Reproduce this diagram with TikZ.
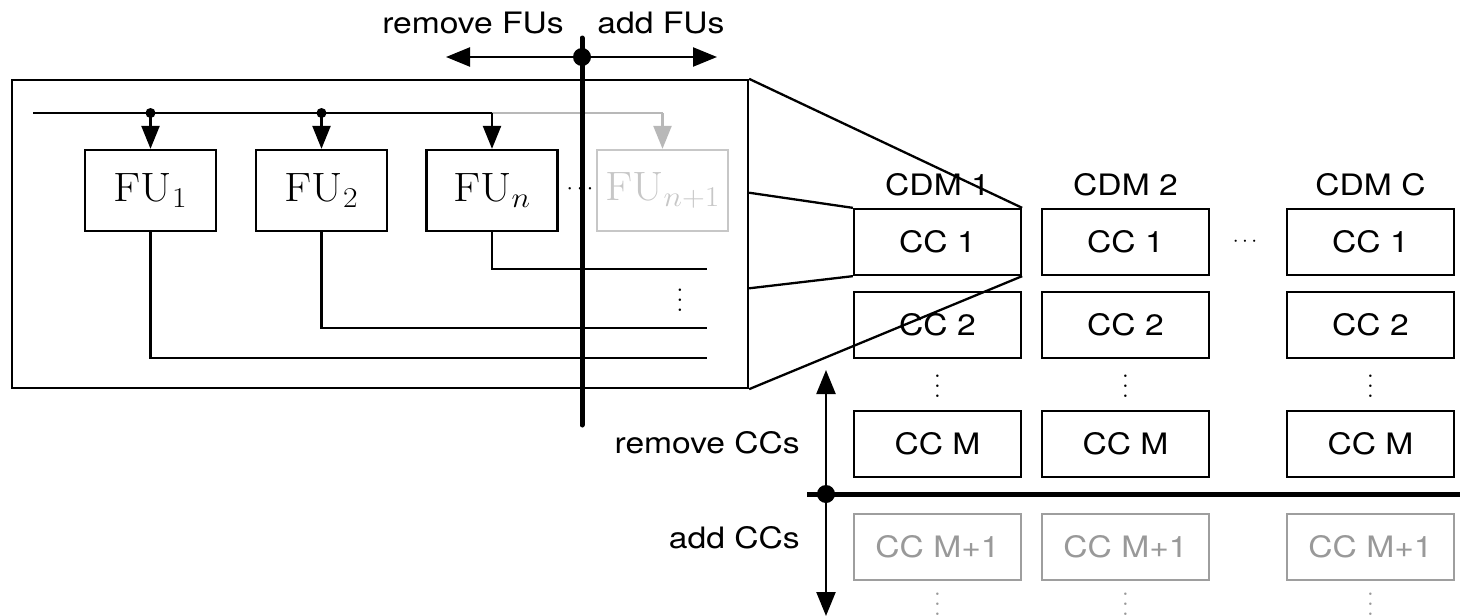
\RequirePackage{fix-cm}
\documentclass[tikz,border=0pt]{standalone}
\usepackage{fontspec}
\usepackage{graphicx}
\setsansfont[FakeStretch=1.14]{TeX Gyre Heros}
\usetikzlibrary{arrows.meta,calc}
\newcommand{\hs}[1]{\scalebox{1.1}[1]{#1}}
\begin{document}
\begin{tikzpicture}[x=1pt,y=-1pt,
  lw/.style={line width=2.3pt},
  thk/.style={line width=5pt},
  fubox/.style={draw,lw,minimum width=131pt,minimum height=81pt,inner sep=0pt,font=\fontsize{41}{45}\selectfont},
  ccbox/.style={draw,lw,minimum width=167pt,minimum height=66pt,inner sep=0pt,font=\sffamily\fontsize{29.5}{33}\selectfont},
  lab/.style={inner sep=0pt,font=\sffamily\fontsize{29.5}{33}\selectfont},
  tri/.style={-{Triangle[length=23pt,width=18pt]}},
  bitri/.style={{Triangle[length=24pt,width=19pt]}-{Triangle[length=24pt,width=19pt]}},
  fugray/.style={draw=black!22,text=black!22},
  ccgray/.style={draw=black!38,text=black!40},
  dot/.style={circle,fill,inner sep=0pt,minimum size=#1}
]
\useasboundingbox (0,0) rectangle (1460,616);

% outer box
\node[draw,lw,minimum width=736pt,minimum height=308pt,inner sep=0pt] (big) at (380,234) {};

% FU boxes
\node[fubox] (fu1) at (150.5,190.5) {\hs{$\mathrm{FU}_1$}};
\node[fubox] (fu2) at (321.5,190.5) {\hs{$\mathrm{FU}_2$}};
\node[fubox] (fun) at (492,190.5) {\hs{$\mathrm{FU}_n$}};
\node[fubox,fugray] (fun1) at (662.5,190.5) {\hs{$\mathrm{FU}_{n+1}$}};
\node[inner sep=0pt] (hd1) at (580,189) {\scalebox{2.3}{$\cdots$}};

% bus
\coordinate (bs) at (33,113);
\coordinate (b1) at (150.5,113);
\coordinate (b2) at (321.5,113);
\coordinate (bn) at (492,113);
\coordinate (bn1) at (662.5,113);
\draw[lw,black!28] (bn) -- (bn1);
\draw[lw,black!28,tri] (bn1) -- (fun1.north);
\draw[lw] (bs) -- (bn);
\draw[lw,tri] (b1) -- (fu1.north);
\draw[lw,tri] (b2) -- (fu2.north);
\draw[lw,tri] (bn) -- (fun.north);
\node[dot=10pt] (d1) at (b1) {};
\node[dot=10pt] (d2) at (b2) {};

% outputs
\coordinate (on) at (707,269);
\coordinate (o2) at (707,328);
\coordinate (o1) at (707,358);
\draw[lw] (fun.south) |- (on);
\draw[lw] (fu2.south) |- (o2);
\draw[lw] (fu1.south) |- (o1);
\node[inner sep=0pt] (vd0) at (680,293) {\scalebox{2.4}{$\vdots$}};

% CC grid
\foreach \c/\x in {1/937.5,2/1125.5,C/1370.5}{
  \node[lab,anchor=base] (cdm\c) at (\x,195) {CDM \c};
  \node[ccbox] (cc1\c) at (\x,242) {CC 1};
  \node[ccbox] (cc2\c) at (\x,325) {CC 2};
  \node[inner sep=0pt] (vd\c) at (\x,379) {\scalebox{2.4}{$\vdots$}};
  \node[ccbox] (ccM\c) at (\x,444) {CC M};
  \node[ccbox,ccgray] (ccN\c) at (\x,547) {CC M+1};
  \node[inner sep=0pt,text=black!40] (vg\c) at (\x,597) {\scalebox{2.4}{$\vdots$}};
}
\node[inner sep=0pt] (hd2) at (1245,242) {\scalebox{2.1}{$\cdots$}};

% zoom lines
\coordinate (z1) at ($(big.north east)!0.367!(big.south east)$);
\coordinate (z2) at ($(big.north east)!0.675!(big.south east)$);
\draw[lw] (big.north east) -- (cc11.north east);
\draw[lw] (z1) -- (cc11.north west);
\draw[lw] (z2) -- (cc11.south west);
\draw[lw] (big.south east) -- (cc11.south east);

% FU add/remove
\coordinate (vt) at (582,38);
\coordinate (vb) at (582,425);
\coordinate (al) at (446,57);
\coordinate (ar) at (717,57);
\draw[lw,bitri] (al) -- (ar);
\draw[thk,line cap=round] (vt) -- (vb);
\node[dot=18pt] (fd) at (582,57) {};
\node[lab,anchor=base] (rfu) at (473,33) {remove FUs};
\node[lab,anchor=base] (afu) at (661,33) {add FUs};

% CC add/remove
\coordinate (hl) at (807,494);
\coordinate (hr) at (1460,494);
\coordinate (ct) at (826,370);
\coordinate (cb) at (826,616);
\draw[thk] (hl) -- (hr);
\draw[lw,bitri] (ct) -- (cb);
\node[dot=18pt] (cd) at (826,494) {};
\node[lab,anchor=base east] (rcc) at (800,453) {remove CCs};
\node[lab,anchor=base east] (acc) at (800,548) {add CCs};
\end{tikzpicture}
\end{document}
